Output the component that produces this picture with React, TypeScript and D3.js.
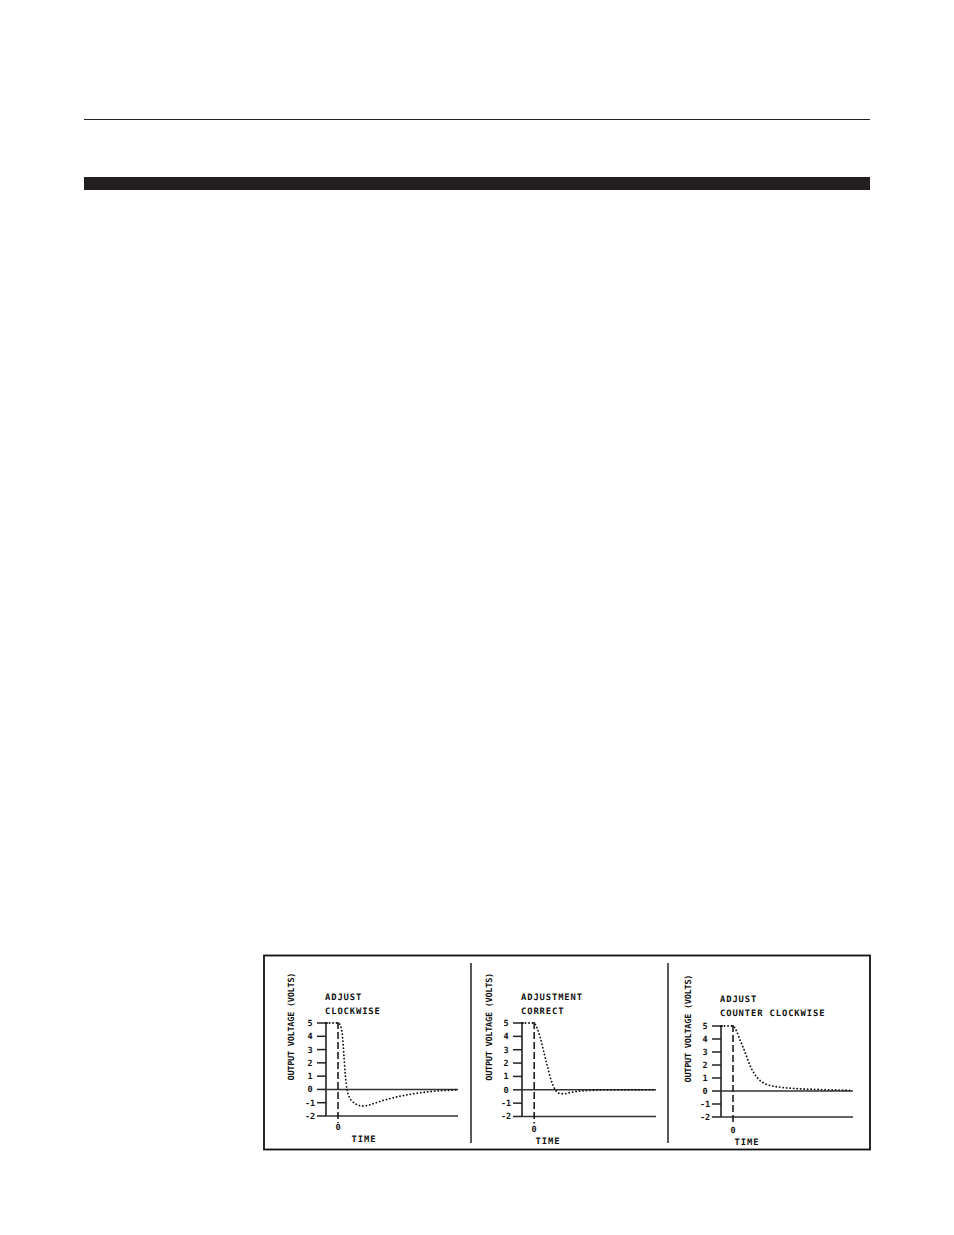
import React, { useEffect, useRef } from "react";
import * as d3 from "d3";

// time (arbitrary units, 0 = the dashed line) and output voltage
const clockwiseTime = [-1, 0, 0.2, 0.35, 0.5, 0.6, 0.75, 0.9, 1.2, 1.6, 2, 2.5, 3, 3.5, 4.5, 5.5, 6.5, 7.5, 8.5, 9.5, 10];
const clockwiseVolts = [5, 5, 4.8, 4.2, 2.5, 1.2, 0, -0.5, -0.9, -1.15, -1.25, -1.2, -1.05, -0.9, -0.65, -0.45, -0.3, -0.18, -0.1, -0.05, -0.03];

const correctTime = [-1, 0, 0.2, 0.5, 0.8, 1.1, 1.4, 1.7, 2, 2.4, 3, 4, 5, 6, 10];
const correctVolts = [5, 5, 4.7, 3.9, 2.8, 1.7, 0.7, 0.05, -0.25, -0.3, -0.2, -0.08, -0.03, 0, 0];

const counterTime = [-1, 0, 0.3, 0.6, 1, 1.4, 1.8, 2.2, 2.7, 3.3, 4, 5, 6, 7, 8, 9, 10];
const counterVolts = [5, 5, 4.6, 3.9, 3, 2, 1.3, 0.85, 0.55, 0.38, 0.28, 0.2, 0.15, 0.12, 0.09, 0.07, 0.05];

const voltTicks = [5, 4, 3, 2, 1, 0, -1, -2];
const panelTitles = [
  ["ADJUST", "CLOCKWISE"],
  ["ADJUSTMENT", "CORRECT"],
  ["ADJUST", "COUNTER CLOCKWISE"],
];
const yAxisTitle = "OUTPUT VOLTAGE (VOLTS)";
const xAxisTitle = "TIME";

// panel geometry (page pixels)
const panels = [
  { x0: 326, x1: 458, yTop: 1023, yBot: 1116, titleX: 325, titleY: 997, yTitleX: 291, timeX: 364, timeY: 1139, time: clockwiseTime, volts: clockwiseVolts },
  { x0: 522, x1: 656, yTop: 1023, yBot: 1116.5, titleX: 521, titleY: 997, yTitleX: 489, timeX: 548, timeY: 1141, time: correctTime, volts: correctVolts },
  { x0: 721, x1: 853, yTop: 1026, yBot: 1117, titleX: 720, titleY: 999, yTitleX: 688, timeX: 747, timeY: 1142, time: counterTime, volts: counterVolts },
];

const W = 954;
const H = 1235;
const FONT = "'DejaVu Sans Mono', monospace";

export default function App() {
  const ref = useRef<SVGSVGElement>(null);

  useEffect(() => {
    const svg = d3.select(ref.current);
    svg.selectAll("*").remove();

    svg.append("rect").attr("width", W).attr("height", H).attr("fill", "#fff");

    // page header rules
    svg.append("line").attr("x1", 84).attr("x2", 870).attr("y1", 119.5).attr("y2", 119.5)
      .attr("stroke", "#231f20").attr("stroke-width", 1.2);
    svg.append("rect").attr("x", 84).attr("y", 177).attr("width", 786).attr("height", 13)
      .attr("fill", "#231f20");

    // figure frame + separators
    svg.append("rect").attr("x", 264).attr("y", 955.5).attr("width", 606).attr("height", 194)
      .attr("fill", "none").attr("stroke", "#111").attr("stroke-width", 1.8);
    [471, 668].forEach((x) => {
      svg.append("line").attr("x1", x).attr("x2", x).attr("y1", 963).attr("y2", 1143)
        .attr("stroke", "#222").attr("stroke-width", 1.5);
    });

    panels.forEach((p, i) => {
      const x = d3.scaleLinear().domain([-1, 10]).range([p.x0, p.x1]);
      const y = d3.scaleLinear().domain([-2, 5]).range([p.yBot, p.yTop]);
      const g = svg.append("g").attr("font-family", FONT).attr("font-weight", "bold")
        .attr("fill", "#111").style("text-rendering", "geometricPrecision");

      // y axis
      g.append("line").attr("x1", x(-1)).attr("x2", x(-1)).attr("y1", y(5)).attr("y2", y(-2))
        .attr("stroke", "#222").attr("stroke-width", 1.6);
      g.selectAll("line.tick").data(voltTicks).join("line").attr("class", "tick")
        .attr("x1", x(-1) - 9).attr("x2", (d) => (d === 5 ? x(-1) + 2 : x(-1)))
        .attr("y1", (d) => y(d)).attr("y2", (d) => y(d))
        .attr("stroke", "#222").attr("stroke-width", 1.5);
      g.selectAll("text.tl").data(voltTicks).join("text").attr("class", "tl")
        .attr("x", x(-1) - 16).attr("y", (d) => y(d)).attr("dy", "0.35em")
        .attr("text-anchor", "middle").attr("font-size", 8.5)
        .text((d) => (d < 0 ? `-${-d}` : `${d}`));

      // zero and -2 lines
      g.append("line").attr("x1", x(-1)).attr("x2", x(10)).attr("y1", y(0)).attr("y2", y(0))
        .attr("stroke", "#333").attr("stroke-width", 1.5);
      g.append("line").attr("x1", x(-1)).attr("x2", x(10)).attr("y1", y(-2)).attr("y2", y(-2))
        .attr("stroke", "#333").attr("stroke-width", 1.5);

      // t = 0 dashed marker
      g.append("line").attr("x1", x(0)).attr("x2", x(0)).attr("y1", y(5) - 1).attr("y2", y(-2) + 7)
        .attr("stroke", "#111").attr("stroke-width", 1.5).attr("stroke-dasharray", "7 3");
      g.append("text").attr("x", x(0)).attr("y", p.timeY - 12).attr("dy", "0.35em")
        .attr("text-anchor", "middle").attr("font-size", 8.5).text("0");

      // response curve
      const pts = p.time.map((t, k) => [t, p.volts[k]] as [number, number]);
      const line = d3.line<[number, number]>().x((d) => x(d[0])).y((d) => y(d[1])).curve(d3.curveMonotoneX);
      g.append("path").attr("d", line(pts)).attr("fill", "none").attr("stroke", "#111")
        .attr("stroke-width", 1.8).attr("stroke-linecap", "round").attr("stroke-dasharray", "0.1 3.4");

      // labels
      panelTitles[i].forEach((s, k) => {
        g.append("text").attr("x", p.titleX).attr("y", p.titleY + k * 14).attr("dy", "0.35em")
          .attr("font-size", 8.8).attr("letter-spacing", 0.9).text(s);
      });
      g.append("text").attr("x", p.timeX).attr("y", p.timeY).attr("dy", "0.35em")
        .attr("text-anchor", "middle").attr("font-size", 8.8).attr("letter-spacing", 0.9).text(xAxisTitle);
      const yc = (y(5) + y(-2)) / 2 - 43;
      g.append("text").attr("transform", `translate(${p.yTitleX},${yc}) rotate(-90)`)
        .attr("dy", "0.35em").attr("text-anchor", "middle").attr("font-size", 8.6)
        .attr("textLength", 108).attr("lengthAdjust", "spacing").text(yAxisTitle);
    });
  }, []);

  return (
    <svg ref={ref} width={W} height={H}
      style={{ position: "absolute", left: 0, top: 0, display: "block" }} />
  );
}
